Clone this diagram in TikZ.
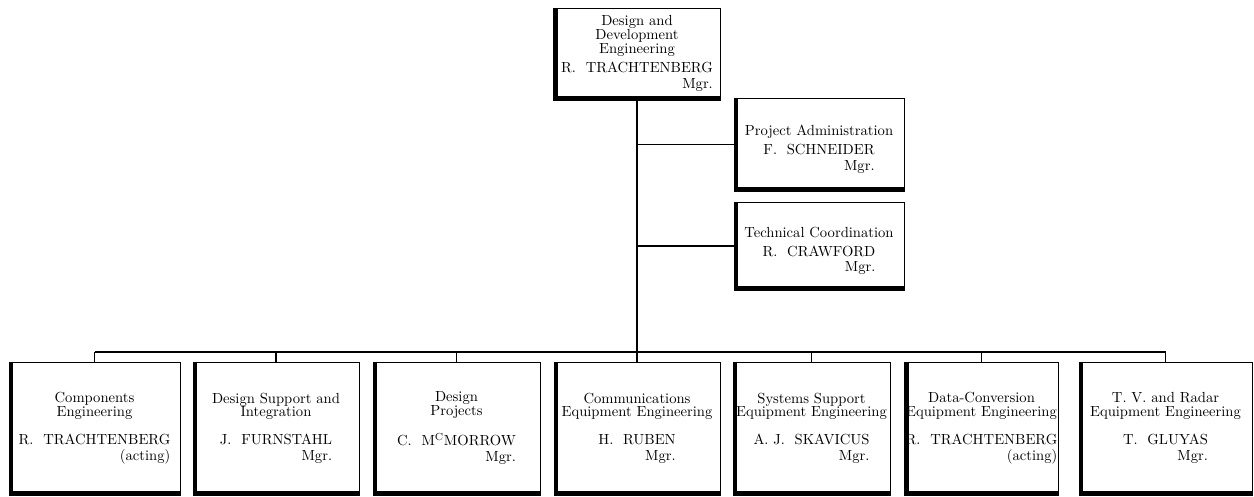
\documentclass[tikz,border=0pt]{standalone}
\usetikzlibrary{calc}

\newcommand{\headof}[2]{\begin{tabular}[t]{@{}r@{}}#1\\[1pt]#2\end{tabular}}

\begin{document}
\begin{tikzpicture}[x=0.025cm,y=-0.025cm,
  unit/.style={draw,line width=0.7pt,fill=white,align=center,inner sep=1pt,
    font=\fontsize{10.4}{9.8}\selectfont},
  wh/.style 2 args={minimum width=#1*0.025cm,minimum height=#2*0.025cm},
  link/.style={line width=0.75pt},
  shade/.style={line width=3.5pt}]

\useasboundingbox (0,0) rectangle (1254,497);

% top one
\node[unit,wh={167}{92}] (dde) at (637,54)
  {Design and\\Development\\Engineering\\[4pt]\headof{R.~~TRACHTENBERG}{Mgr.}};

% staff ones
\node[unit,wh={170}{93}] (pa) at (819,144.5)
  {\rule{0pt}{15pt}Project Administration\\[4pt]\headof{F.~~SCHNEIDER}{Mgr.}};
\node[unit,wh={170}{88}] (tc) at (819,246)
  {\rule{0pt}{15pt}Technical Coordination\\[4pt]\headof{R.~~CRAWFORD}{Mgr.}};

% bottom row
\node[unit,wh={171}{133}] (b1) at (94.5,428.5)
  {Components\\Engineering\\[10pt]\headof{R.~~TRACHTENBERG}{(acting)}};
\node[unit,wh={166}{133}] (b2) at (276,428.5)
  {Design Support and\\Integration\\[10pt]\headof{J.~~FURNSTAHL}{Mgr.}};
\node[unit,wh={167}{133}] (b3) at (456.5,428.5)
  {Design\\Projects\\[10pt]\headof{C.~~M\textsuperscript{C}MORROW}{Mgr.}};
\node[unit,wh={166}{133}] (b4) at (637,428.5)
  {Communications\\Equipment Engineering\\[10pt]\headof{H.~~RUBEN}{Mgr.}};
\node[unit,wh={157}{133}] (b5) at (811.5,428.5)
  {Systems Support\\Equipment Engineering\\[10pt]\headof{A.~J.~~SKAVICUS}{Mgr.}};
\node[unit,wh={153}{133}] (b6) at (981.5,428.5)
  {Data-Conversion\\Equipment Engineering\\[10pt]\headof{R.~~TRACHTENBERG}{(acting)}};
\node[unit,wh={173}{133}] (b7) at (1165.5,428.5)
  {T.~V. and Radar\\Equipment Engineering\\[10pt]\headof{T.~~GLUYAS}{Mgr.}};

% heavy edges
\foreach \n in {dde,pa,tc,b1,b2,b3,b4,b5,b6,b7}
  \draw[shade] ([xshift=1.75pt]\n.north west) -- ([xshift=1.75pt,yshift=1.75pt]\n.south west)
    -- ([yshift=1.75pt]\n.south east);

% lines
\coordinate (bus) at (637,352);
\draw[link] (dde.south) -- (bus);
\draw[link] (pa.west) -- (pa.west -| dde.south);
\draw[link] (tc.west) -- (tc.west -| dde.south);
\draw[link] (b1.north |- bus) -- (b7.north |- bus);
\foreach \n in {b1,b2,b3,b4,b5,b6,b7}
  \draw[link] (\n.north) -- (\n.north |- bus);

\end{tikzpicture}
\end{document}
